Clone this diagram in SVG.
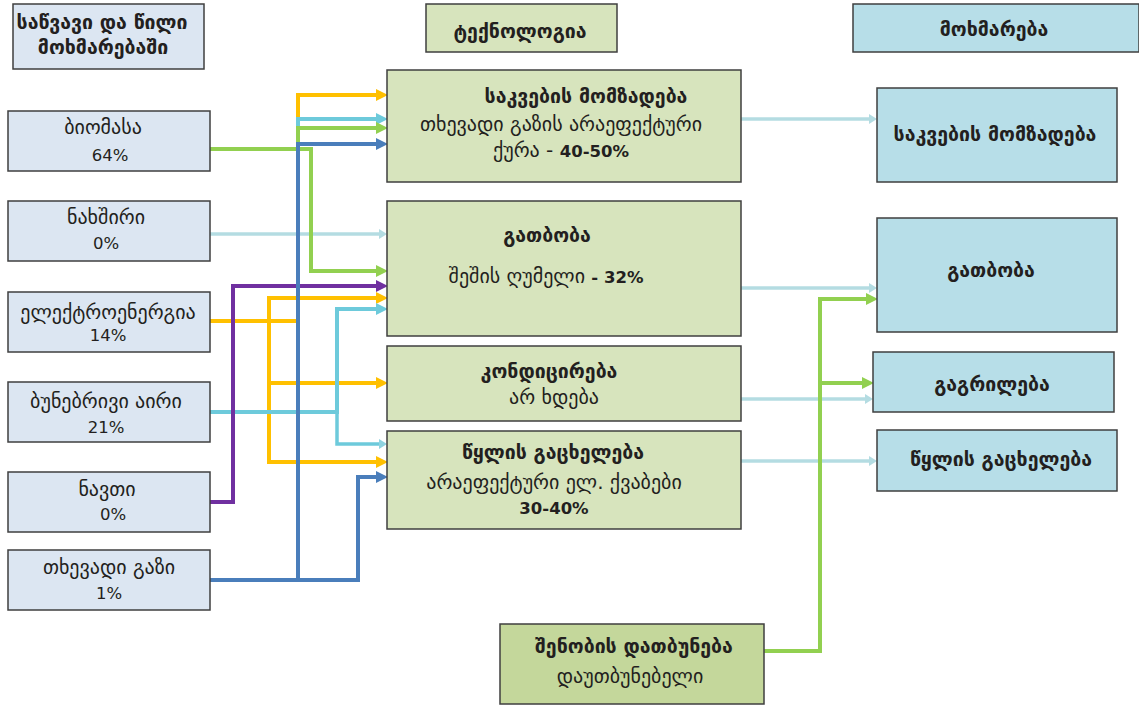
<svg xmlns="http://www.w3.org/2000/svg" width="1139" height="705" viewBox="0 0 1139 705">
<style>
text{font-family:"DejaVu Sans",sans-serif;fill:#231f20;text-anchor:middle;font-size:20px}
.b{font-weight:bold;font-size:19.5px}
.n{font-size:16.5px}
.src{fill:#dce6f2;stroke:#3f3f3f;stroke-width:1.5}
.tech{fill:#d7e4bd;stroke:#3f3f3f;stroke-width:1.5}
.ins{fill:#c4d79b;stroke:#3f3f3f;stroke-width:1.5}
.use{fill:#b7dee8;stroke:#3f3f3f;stroke-width:1.5}
.c{fill:none;stroke-width:4;stroke-linejoin:miter}
.lb{fill:none;stroke:#b4dce2;stroke-width:3.5}
</style>
<defs>
<marker id="aY" markerUnits="userSpaceOnUse" viewBox="0 0 12 12" markerWidth="12" markerHeight="12" refX="0" refY="6" orient="auto"><path d="M0,0 L12,6 L0,12 z" fill="#ffc000"/></marker>
<marker id="aB" markerUnits="userSpaceOnUse" viewBox="0 0 12 12" markerWidth="12" markerHeight="12" refX="0" refY="6" orient="auto"><path d="M0,0 L12,6 L0,12 z" fill="#4a7ebb"/></marker>
<marker id="aC" markerUnits="userSpaceOnUse" viewBox="0 0 12 12" markerWidth="12" markerHeight="12" refX="0" refY="6" orient="auto"><path d="M0,0 L12,6 L0,12 z" fill="#6dcadb"/></marker>
<marker id="aG" markerUnits="userSpaceOnUse" viewBox="0 0 12 12" markerWidth="12" markerHeight="12" refX="0" refY="6" orient="auto"><path d="M0,0 L12,6 L0,12 z" fill="#92d050"/></marker>
<marker id="aP" markerUnits="userSpaceOnUse" viewBox="0 0 12 12" markerWidth="12" markerHeight="12" refX="0" refY="6" orient="auto"><path d="M0,0 L12,6 L0,12 z" fill="#7030a0"/></marker>
<marker id="aL" markerUnits="userSpaceOnUse" viewBox="0 0 8 10" markerWidth="8" markerHeight="10" refX="0" refY="5" orient="auto"><path d="M0,0 L8,5 L0,10 z" fill="#b4dce2"/></marker>
<marker id="aL2" markerUnits="userSpaceOnUse" viewBox="0 0 8 10" markerWidth="8" markerHeight="10" refX="0" refY="5" orient="auto"><path d="M0,0 L8,5 L0,10 z" fill="#8fd3e0"/></marker>
</defs>

<g id="connectors">
<path class="lb" d="M210,234 H379" marker-end="url(#aL)"/>
<path class="c" stroke="#ffc000" d="M210,321 H298 V95 H376" marker-end="url(#aY)"/>
<path class="c" stroke="#ffc000" d="M269,462 V298 H376" marker-end="url(#aY)"/>
<path class="c" stroke="#ffc000" d="M269,383 H376" marker-end="url(#aY)"/>
<path class="c" stroke="#ffc000" d="M269,460 V462 H376" marker-end="url(#aY)"/>
<path class="c" stroke="#6dcadb" d="M210,412 H298 V119 H376" marker-end="url(#aC)"/>
<path class="c" stroke="#6dcadb" d="M298,412 H337 V309 H376" marker-end="url(#aC)"/>
<path class="c" stroke="#6dcadb" d="M337,410 V444 H379" marker-end="url(#aL2)" style="stroke-width:3.5"/>
<path class="c" stroke="#92d050" d="M210,149 H298 V128 H376" marker-end="url(#aG)"/>
<path class="c" stroke="#92d050" d="M296,149 H311 V271 H376" marker-end="url(#aG)"/>
<path class="c" stroke="#7030a0" d="M210,502 H233 V286 H376" marker-end="url(#aP)"/>
<path class="c" stroke="#4a7ebb" d="M210,580 H298 V144 H376" marker-end="url(#aB)"/>
<path class="c" stroke="#4a7ebb" d="M298,580 H358 V477 H376" marker-end="url(#aB)"/>
<path class="lb" d="M741,119 H869" marker-end="url(#aL)"/>
<path class="lb" d="M741,288 H869" marker-end="url(#aL)"/>
<path class="lb" d="M741,399 H865" marker-end="url(#aL)"/>
<path class="lb" d="M741,461 H869" marker-end="url(#aL)"/>
<path class="c" stroke="#92d050" d="M764,651 H820 V299 H866" marker-end="url(#aG)"/>
<path class="c" stroke="#92d050" d="M820,383 H862" marker-end="url(#aG)"/>
</g>

<g id="hdr-source"><rect class="src" x="13" y="4" width="191" height="65"/>
<text class="b" x="102" y="29">საწვავი და წილი</text><text class="b" x="103" y="54">მოხმარებაში</text></g>
<g id="hdr-tech"><rect class="tech" x="426" y="4" width="191" height="48"/>
<text class="b" x="520" y="38">ტექნოლოგია</text></g>
<g id="hdr-use"><rect class="use" x="853" y="4" width="286" height="48"/>
<text class="b" x="994" y="36">მოხმარება</text></g>

<g id="src-biomass"><rect class="src" x="8" y="111" width="202" height="60"/>
<text x="103" y="134">ბიომასა</text><text class="n" x="110" y="161">64%</text></g>
<g id="src-coal"><rect class="src" x="8" y="201" width="202" height="60"/>
<text x="106" y="224">ნახშირი</text><text class="n" x="106" y="249">0%</text></g>
<g id="src-electricity"><rect class="src" x="8" y="292" width="202" height="60"/>
<text x="108" y="319">ელექტროენერგია</text><text class="n" x="108" y="341">14%</text></g>
<g id="src-natgas"><rect class="src" x="8" y="382" width="202" height="60"/>
<text x="106" y="408">ბუნებრივი აირი</text><text class="n" x="106" y="433">21%</text></g>
<g id="src-kerosene"><rect class="src" x="8" y="472" width="202" height="60"/>
<text x="107" y="496">ნავთი</text><text class="n" x="113" y="520">0%</text></g>
<g id="src-lpg"><rect class="src" x="8" y="550" width="202" height="60"/>
<text x="109" y="574">თხევადი გაზი</text><text class="n" x="109" y="599">1%</text></g>

<g id="tech-cooking"><rect class="tech" x="387" y="70" width="354" height="112"/>
<text class="b" x="586" y="103">საკვების მომზადება</text>
<text x="561" y="131">თხევადი გაზის არაეფექტური</text>
<text x="561" y="157">ქურა  -  <tspan class="b n">40-50%</tspan></text></g>
<g id="tech-heating"><rect class="tech" x="387" y="201" width="354" height="135"/>
<text class="b" x="547" y="242">გათბობა</text>
<text x="546" y="283">შეშის ღუმელი <tspan class="b n">- 32%</tspan></text></g>
<g id="tech-cond"><rect class="tech" x="387" y="346" width="354" height="75"/>
<text class="b" x="549" y="378">კონდიცირება</text>
<text x="554" y="404">არ ხდება</text></g>
<g id="tech-water"><rect class="tech" x="387" y="431" width="354" height="98"/>
<text class="b" x="553" y="459">წყლის გაცხელება</text>
<text x="554" y="489">არაეფექტური ელ. ქვაბები</text>
<text class="b n" x="554" y="514">30-40%</text></g>
<g id="tech-insulation"><rect class="ins" x="500" y="624" width="264" height="80"/>
<text class="b" x="634" y="653">შენობის დათბუნება</text>
<text x="630" y="683">დაუთბუნებელი</text></g>

<g id="use-cooking"><rect class="use" x="877" y="88" width="240" height="94"/>
<text class="b" x="995" y="141">საკვების მომზადება</text></g>
<g id="use-heating"><rect class="use" x="877" y="218" width="240" height="114"/>
<text class="b" x="991" y="277">გათბობა</text></g>
<g id="use-cooling"><rect class="use" x="873" y="352" width="241" height="60"/>
<text class="b" x="992" y="391">გაგრილება</text></g>
<g id="use-water"><rect class="use" x="877" y="430" width="240" height="61"/>
<text class="b" x="1001" y="466">წყლის გაცხელება</text></g>
</svg>
